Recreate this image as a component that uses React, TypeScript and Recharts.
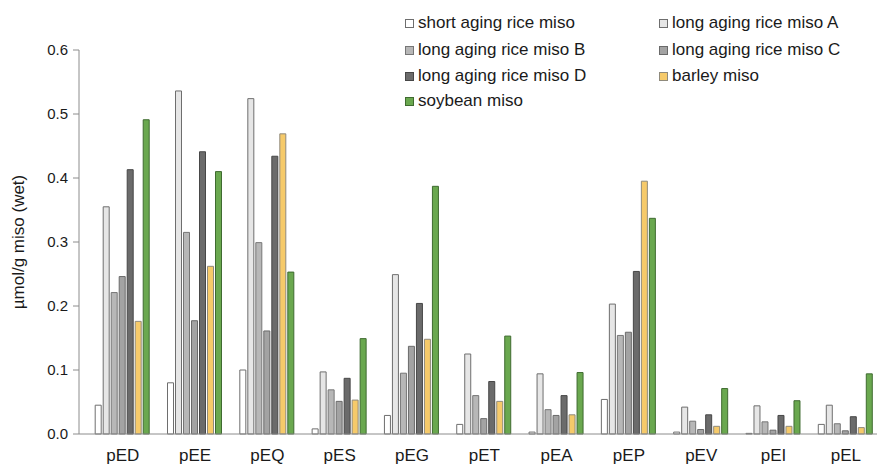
import { Bar, BarChart, Legend, XAxis, YAxis } from 'recharts';

const categories = ['pED', 'pEE', 'pEQ', 'pES', 'pEG', 'pET', 'pEA', 'pEP', 'pEV', 'pEI', 'pEL'];

const shortAging = [0.045, 0.08, 0.1, 0.008, 0.029, 0.015, 0.003, 0.054, 0.003, 0.001, 0.015];
const longA = [0.355, 0.536, 0.524, 0.097, 0.249, 0.125, 0.094, 0.203, 0.042, 0.044, 0.045];
const longB = [0.221, 0.315, 0.299, 0.069, 0.095, 0.06, 0.038, 0.154, 0.02, 0.019, 0.016];
const longC = [0.246, 0.177, 0.161, 0.051, 0.137, 0.024, 0.029, 0.159, 0.007, 0.006, 0.005];
const longD = [0.413, 0.441, 0.434, 0.087, 0.204, 0.082, 0.06, 0.254, 0.03, 0.029, 0.027];
const barley = [0.176, 0.262, 0.469, 0.053, 0.148, 0.051, 0.03, 0.395, 0.012, 0.012, 0.01];
const soybean = [0.491, 0.41, 0.253, 0.149, 0.387, 0.153, 0.096, 0.337, 0.071, 0.052, 0.094];

const yTicks = [0, 0.1, 0.2, 0.3, 0.4, 0.5, 0.6];

const series = [
  { key: 'short', name: 'short aging rice miso', fill: '#ffffff', stroke: '#6e6e6e' },
  { key: 'a', name: 'long aging rice miso A', fill: '#e6e6e6', stroke: '#6e6e6e' },
  { key: 'b', name: 'long aging rice miso B', fill: '#b7b7b7', stroke: '#767676' },
  { key: 'c', name: 'long aging rice miso C', fill: '#a3a3a3', stroke: '#6a6a6a' },
  { key: 'd', name: 'long aging rice miso D', fill: '#6b6b6b', stroke: '#474747' },
  { key: 'barley', name: 'barley miso', fill: '#f6ca6a', stroke: '#8f8a7c' },
  { key: 'soy', name: 'soybean miso', fill: '#6aa84f', stroke: '#3f6b30' },
];

const data = categories.map((name, i) => ({
  name,
  short: shortAging[i],
  a: longA[i],
  b: longB[i],
  c: longC[i],
  d: longD[i],
  barley: barley[i],
  soy: soybean[i],
}));

const FONT = '"Liberation Sans", Arial, sans-serif';
const AXIS = '#8c8c8c';

// two-column legend, filled row by row
function MisoLegend() {
  const colX = [405, 659];
  const rowY = [23, 50, 76, 101];
  return (
    <div style={{ position: 'absolute', left: 0, top: 0, fontFamily: FONT }}>
      {series.map((s, i) => {
        const x = colX[i % 2];
        const y = rowY[Math.floor(i / 2)];
        return (
          <div key={s.key} style={{ position: 'absolute', left: x, top: y - 10, height: 20, display: 'flex', alignItems: 'center', whiteSpace: 'nowrap' }}>
            <span style={{ width: 7, height: 7, background: s.fill, border: `1px solid ${s.stroke}`, marginRight: 4 }} />
            <span style={{ fontSize: 17, color: '#1a1a1a' }}>{s.name}</span>
          </div>
        );
      })}
    </div>
  );
}

function AxisTitle({ viewBox }: { viewBox?: { x: number; y: number; width: number; height: number } }) {
  if (!viewBox) return null;
  const cy = viewBox.y + viewBox.height / 2;
  return (
    <text
      x={18}
      y={cy}
      transform={`rotate(-90, 18, ${cy})`}
      textAnchor="middle"
      dominantBaseline="central"
      fontSize={17}
      fontFamily={FONT}
      fill="#1a1a1a"
    >
      µmol/g miso (wet)
    </text>
  );
}

export default function App() {
  return (
    <div style={{ position: 'absolute', left: 0, top: 0, width: 877, height: 465, overflow: 'hidden', background: '#fff' }}>
      <BarChart
        width={882}
        height={465}
        data={data}
        margin={{ top: 50, right: 0, bottom: 0, left: 0 }}
        barGap={2}
        barCategoryGap={8.6}
      >
        <XAxis
          dataKey="name"
          height={31}
          padding={{ left: 7.6, right: 0 }}
          stroke={AXIS}
          tickLine={false}
          tickSize={0}
          tickMargin={15}
          tick={{ fontSize: 17, fill: '#1a1a1a', fontFamily: FONT }}
          interval={0}
        />
        <YAxis
          width={79}
          domain={[0, 0.6]}
          ticks={yTicks}
          stroke={AXIS}
          tickSize={6}
          tickMargin={5}
          tickFormatter={(v: number) => v.toFixed(1)}
          tick={{ fontSize: 15, fill: '#1a1a1a', fontFamily: FONT }}
          label={<AxisTitle />}
        />
        <Legend
          content={<MisoLegend />}
          wrapperStyle={{ position: 'absolute', left: 0, top: 0, width: 0, height: 0 }}
        />
        {series.map((s) => (
          <Bar
            key={s.key}
            dataKey={s.key}
            name={s.name}
            fill={s.fill}
            stroke={s.stroke}
            strokeWidth={1}
            isAnimationActive={false}
          />
        ))}
      </BarChart>
    </div>
  );
}
